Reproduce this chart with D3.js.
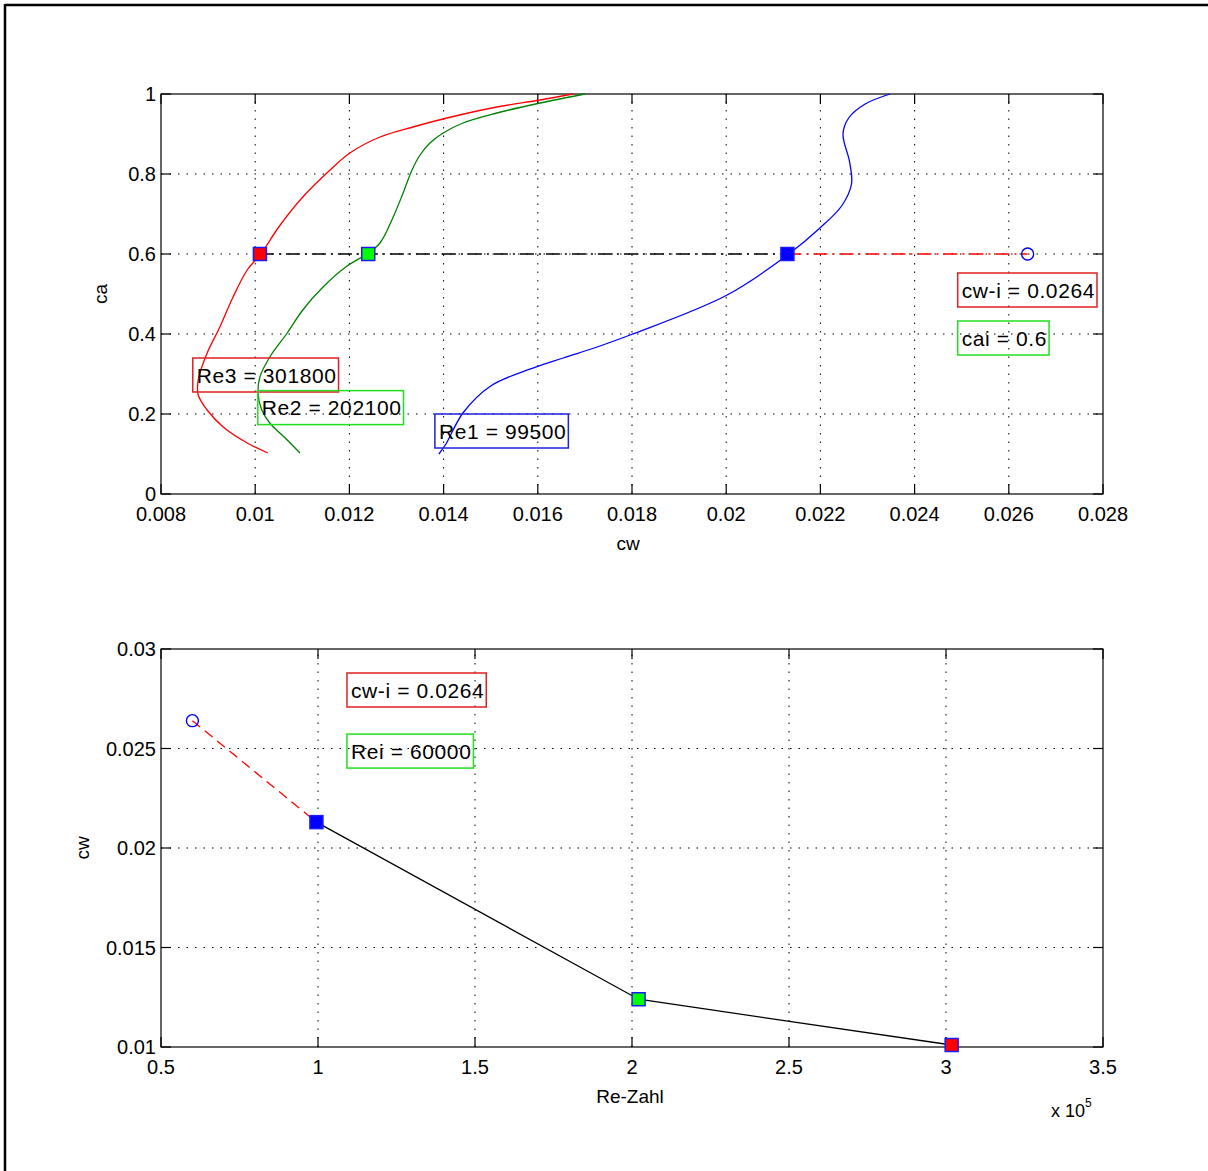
<!DOCTYPE html>
<html>
<head>
<meta charset="utf-8">
<script src="https://cdn.jsdelivr.net/npm/d3@7"></script>
<style>
  html, body { margin: 0; padding: 0; background: #fff; }
  svg { display: block; }
  text { font-family: "Liberation Sans", Arial, sans-serif; fill: #000; }
</style>
</head>
<body>
<svg id="chart" width="1208" height="1171"></svg>
<script>
// Polar curves ca(cw) for three Reynolds numbers: [cw, ca]
const polarRe1 = [
  [0.01390, 0.100], [0.01405, 0.125], [0.01441, 0.2025], [0.01500, 0.2700],
  [0.01583, 0.312], [0.01654, 0.340], [0.01726, 0.3675], [0.01796, 0.3975],
  [0.02002, 0.4975], [0.02133, 0.600], [0.02199, 0.6650], [0.02245, 0.7200],
  [0.02266, 0.775], [0.02262, 0.8300], [0.02248, 0.9000], [0.02260, 0.9400],
  [0.02295, 0.9750], [0.02348, 1.000]
];
const polarRe2 = [
  [0.01095, 0.1025], [0.01068, 0.135], [0.01031, 0.1775], [0.01014, 0.210],
  [0.01006, 0.2525], [0.01010, 0.2925], [0.01031, 0.3425], [0.01068, 0.4025],
  [0.01101, 0.460], [0.01144, 0.5175], [0.01195, 0.570], [0.01237, 0.600],
  [0.01265, 0.6275], [0.01293, 0.6925], [0.01314, 0.7525], [0.01333, 0.810],
  [0.01350, 0.8475], [0.01371, 0.8775], [0.01399, 0.9025], [0.01441, 0.9275],
  [0.01513, 0.9525], [0.01605, 0.9775], [0.01700, 1.000]
];
const polarRe3 = [
  [0.01027, 0.1025], [0.00983, 0.1275], [0.00932, 0.1675], [0.00898, 0.210],
  [0.00879, 0.2475], [0.00879, 0.285], [0.00898, 0.3525], [0.00925, 0.4175],
  [0.00953, 0.4925], [0.00983, 0.560], [0.01012, 0.600], [0.01050, 0.6675],
  [0.01101, 0.7425], [0.01159, 0.810], [0.01201, 0.8525], [0.01265, 0.8925],
  [0.01335, 0.9175], [0.01407, 0.940], [0.01513, 0.9675], [0.01605, 0.985],
  [0.01675, 1.000]
];

// Operating points at the design lift coefficient
const caDesign = 0.6;
const reNumbers = [99500, 202100, 301800];
const cwAtDesign = [0.0213, 0.0124, 0.0101];
const pointColors = ["#0000ff", "#00ff00", "#ff0000"];
const curveColors = ["#0000ff", "#008000", "#ff0000"];

// Extrapolated point
const reIdeal = 60000;
const cwIdeal = 0.0264;

// Tick labels
const topXTicks = [0.008, 0.01, 0.012, 0.014, 0.016, 0.018, 0.02, 0.022, 0.024, 0.026, 0.028];
const topYTicks = [0, 0.2, 0.4, 0.6, 0.8, 1];
const botXTicks = [0.5, 1, 1.5, 2, 2.5, 3, 3.5];
const botYTicks = [0.01, 0.015, 0.02, 0.025, 0.03];

const svg = d3.select("#chart");

// Page frame (top and left edges)
svg.append("line").attr("x1", 5).attr("y1", 5).attr("x2", 1208).attr("y2", 5)
  .attr("stroke", "#000").attr("stroke-width", 2.5);
svg.append("line").attr("x1", 5).attr("y1", 4).attr("x2", 5).attr("y2", 1171)
  .attr("stroke", "#000").attr("stroke-width", 2.5);

const TICK = 10;
const GRID_DASH = "1.5,7";
const DASHDOT = "14,5,2,5";

function drawAxes(g, x, y, xTicks, yTicks, xFmt, yFmt) {
  const [x0, x1] = x.range();
  const [y0, y1] = y.range(); // y0 bottom, y1 top
  // grid
  g.append("g").selectAll("line").data(xTicks.slice(1, -1)).join("line")
    .attr("x1", d => x(d)).attr("x2", d => x(d)).attr("y1", y0).attr("y2", y1)
    .attr("stroke", "#000").attr("stroke-width", 1).attr("stroke-dasharray", GRID_DASH);
  g.append("g").selectAll("line").data(yTicks.slice(1, -1)).join("line")
    .attr("x1", x0).attr("x2", x1).attr("y1", d => y(d)).attr("y2", d => y(d))
    .attr("stroke", "#000").attr("stroke-width", 1).attr("stroke-dasharray", GRID_DASH);
  // frame
  g.append("rect").attr("x", x0).attr("y", y1).attr("width", x1 - x0).attr("height", y0 - y1)
    .attr("fill", "none").attr("stroke", "#000").attr("stroke-width", 1.2);
  // tick marks on all four sides
  const tk = g.append("g").attr("stroke", "#000").attr("stroke-width", 1.2);
  xTicks.forEach(d => {
    tk.append("line").attr("x1", x(d)).attr("x2", x(d)).attr("y1", y0).attr("y2", y0 - TICK);
    tk.append("line").attr("x1", x(d)).attr("x2", x(d)).attr("y1", y1).attr("y2", y1 + TICK);
  });
  yTicks.forEach(d => {
    tk.append("line").attr("x1", x0).attr("x2", x0 + TICK).attr("y1", y(d)).attr("y2", y(d));
    tk.append("line").attr("x1", x1).attr("x2", x1 - TICK).attr("y1", y(d)).attr("y2", y(d));
  });
  // tick labels
  g.append("g").selectAll("text").data(xTicks).join("text")
    .attr("x", d => x(d)).attr("y", y0 + 27).attr("text-anchor", "middle")
    .attr("font-size", 20).text(xFmt);
  g.append("g").selectAll("text").data(yTicks).join("text")
    .attr("x", x0 - 5).attr("y", d => y(d) + 7).attr("text-anchor", "end")
    .attr("font-size", 20).text(yFmt);
}

function labelBox(parent, px, py, str, color) {
  const g = parent.append("g");
  const box = g.append("rect");
  const t = g.append("text").attr("x", px).attr("y", py).attr("dy", "0.36em")
    .attr("font-size", 21).attr("letter-spacing", 0.6).text(str);
  const bb = t.node().getBBox();
  box.attr("x", bb.x - 4).attr("y", py - 17)
    .attr("width", bb.width + 6).attr("height", 34)
    .attr("fill", "none").attr("stroke", color).attr("stroke-width", 1.5);
}

function square(g, cx, cy, fill) {
  g.append("rect").attr("x", cx - 6.5).attr("y", cy - 6.5).attr("width", 13).attr("height", 13)
    .attr("fill", fill).attr("stroke", "#1a1aff").attr("stroke-width", 1.5);
}

// ---------- Upper plot: ca over cw ----------
const xTop = d3.scaleLinear().domain([0.008, 0.028]).range([161, 1103]);
const yTop = d3.scaleLinear().domain([0, 1]).range([494, 94]);
const gTop = svg.append("g");
drawAxes(gTop, xTop, yTop, topXTicks, topYTicks, d => String(d), d => String(d));

const polarLine = d3.line().x(d => xTop(d[0])).y(d => yTop(d[1])).curve(d3.curveCatmullRom.alpha(0.5));
[polarRe1, polarRe2, polarRe3].forEach((p, i) => {
  gTop.append("path").datum(p).attr("d", polarLine)
    .attr("fill", "none").attr("stroke", curveColors[i]).attr("stroke-width", 1.3);
});

// design line between the measured polars, then extrapolation to the ideal point
gTop.append("line")
  .attr("x1", xTop(d3.min(cwAtDesign))).attr("x2", xTop(d3.max(cwAtDesign)))
  .attr("y1", yTop(caDesign)).attr("y2", yTop(caDesign))
  .attr("stroke", "#000").attr("stroke-width", 1.3).attr("stroke-dasharray", DASHDOT);
gTop.append("line")
  .attr("x1", xTop(d3.max(cwAtDesign))).attr("x2", xTop(cwIdeal))
  .attr("y1", yTop(caDesign)).attr("y2", yTop(caDesign))
  .attr("stroke", "#ff0000").attr("stroke-width", 1.3).attr("stroke-dasharray", DASHDOT);

cwAtDesign.forEach((cw, i) => square(gTop, xTop(cw), yTop(caDesign), pointColors[i]));
gTop.append("circle").attr("cx", xTop(cwIdeal)).attr("cy", yTop(caDesign)).attr("r", 6)
  .attr("fill", "none").attr("stroke", "#0000ff").attr("stroke-width", 1.4);

labelBox(gTop, xTop(0.00876), yTop(0.2975), "Re3 = 301800", "#e02020");
labelBox(gTop, xTop(0.01014), yTop(0.216), "Re2 = 202100", "#20e020");
labelBox(gTop, xTop(0.0139), yTop(0.1575), "Re1 = 99500", "#2020e0");
labelBox(gTop, xTop(0.0250), yTop(0.51), "cw-i = 0.0264", "#e02020");
labelBox(gTop, xTop(0.0250), yTop(0.39), "cai = 0.6", "#20e020");

gTop.append("text").attr("x", 628).attr("y", 550).attr("text-anchor", "middle")
  .attr("font-size", 19).text("cw");
gTop.append("text").attr("transform", "translate(107,294) rotate(-90)").attr("text-anchor", "middle")
  .attr("font-size", 19).text("ca");

// ---------- Lower plot: cw over Reynolds number ----------
const xBot = d3.scaleLinear().domain([0.5e5, 3.5e5]).range([161, 1103]);
const yBot = d3.scaleLinear().domain([0.01, 0.03]).range([1047, 649]);
const gBot = svg.append("g");
drawAxes(gBot, xBot, yBot, botXTicks.map(v => v * 1e5), botYTicks,
  d => String(d / 1e5), d => String(d));

const reLine = d3.line().x(d => xBot(d[0])).y(d => yBot(d[1]));
gBot.append("path").datum([[reIdeal, cwIdeal], [reNumbers[0], cwAtDesign[0]]]).attr("d", reLine)
  .attr("fill", "none").attr("stroke", "#ff0000").attr("stroke-width", 1.3).attr("stroke-dasharray", "10,6");
gBot.append("path").datum(reNumbers.map((r, i) => [r, cwAtDesign[i]])).attr("d", reLine)
  .attr("fill", "none").attr("stroke", "#000").attr("stroke-width", 1.3);

reNumbers.forEach((r, i) => square(gBot, xBot(r), yBot(cwAtDesign[i]), pointColors[i]));
gBot.append("circle").attr("cx", xBot(reIdeal)).attr("cy", yBot(cwIdeal)).attr("r", 6)
  .attr("fill", "none").attr("stroke", "#0000ff").attr("stroke-width", 1.4);

labelBox(gBot, xBot(1.105e5), yBot(0.02794), "cw-i = 0.0264", "#e02020");
labelBox(gBot, xBot(1.105e5), yBot(0.02487), "Rei = 60000", "#20e020");

gBot.append("text").attr("x", 630).attr("y", 1103).attr("text-anchor", "middle")
  .attr("font-size", 19).text("Re-Zahl");
gBot.append("text").attr("transform", "translate(89,848) rotate(-90)").attr("text-anchor", "middle")
  .attr("font-size", 19).text("cw");
const mult = gBot.append("text").attr("x", 1051).attr("y", 1117).attr("font-size", 18);
mult.append("tspan").text("x 10");
mult.append("tspan").attr("dy", -10).attr("font-size", 12).text("5");
</script>
</body>
</html>
